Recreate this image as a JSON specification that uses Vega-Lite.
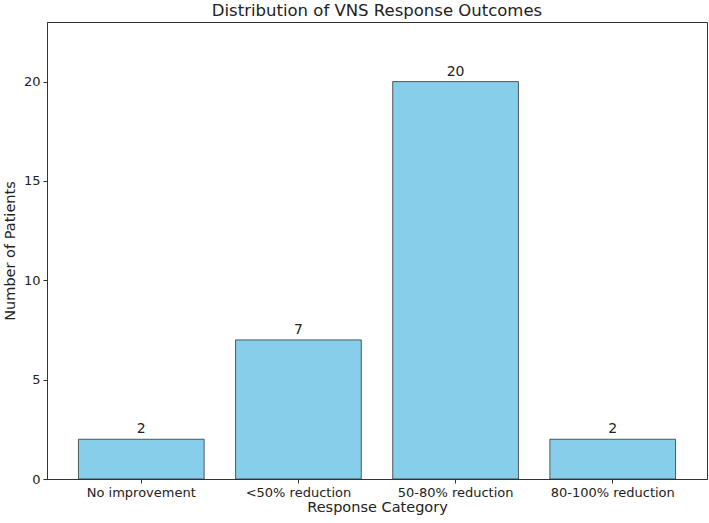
{
  "$schema": "https://vega.github.io/schema/vega-lite/v6.json",
  "width": 660,
  "height": 457,
  "autosize": {"type": "none"},
  "padding": {"left": 47, "top": 22, "right": 2, "bottom": 44},
  "background": "white",
  "config": {
    "font": "DejaVu Sans",
    "view": {"stroke": "#333333", "strokeWidth": 1},
    "axis": {
      "grid": false,
      "domainColor": "#333333",
      "tickColor": "#333333",
      "tickSize": 4,
      "labelFontSize": 13,
      "labelColor": "#222222",
      "titleFontSize": 14.5,
      "titleFontWeight": "normal",
      "titleColor": "#222222",
      "labelPadding": 3
    }
  },
  "title": {
    "text": "Distribution of VNS Response Outcomes",
    "fontSize": 16.5,
    "fontWeight": "normal",
    "color": "#222222",
    "offset": 3
  },
  "data": {
    "values": [
      {"category": "No improvement", "patients": 2},
      {"category": "<50% reduction", "patients": 7},
      {"category": "50-80% reduction", "patients": 20},
      {"category": "80-100% reduction", "patients": 2}
    ]
  },
  "encoding": {
    "x": {
      "field": "category",
      "type": "nominal",
      "sort": null,
      "scale": {"paddingInner": 0.2, "paddingOuter": 0.2},
      "axis": {"labelAngle": 0, "title": "Response Category", "titlePadding": 1}
    },
    "y": {
      "field": "patients",
      "type": "quantitative",
      "scale": {"domain": [0, 23], "nice": false},
      "axis": {"values": [0, 5, 10, 15, 20], "title": "Number of Patients", "titlePadding": 6}
    }
  },
  "layer": [
    {
      "mark": {"type": "bar", "color": "#87CEEB", "stroke": "#333333", "strokeWidth": 0.8}
    },
    {
      "mark": {"type": "text", "baseline": "bottom", "dy": -3, "fontSize": 14, "color": "#222222"},
      "encoding": {"text": {"field": "patients", "type": "quantitative"}}
    }
  ]
}
